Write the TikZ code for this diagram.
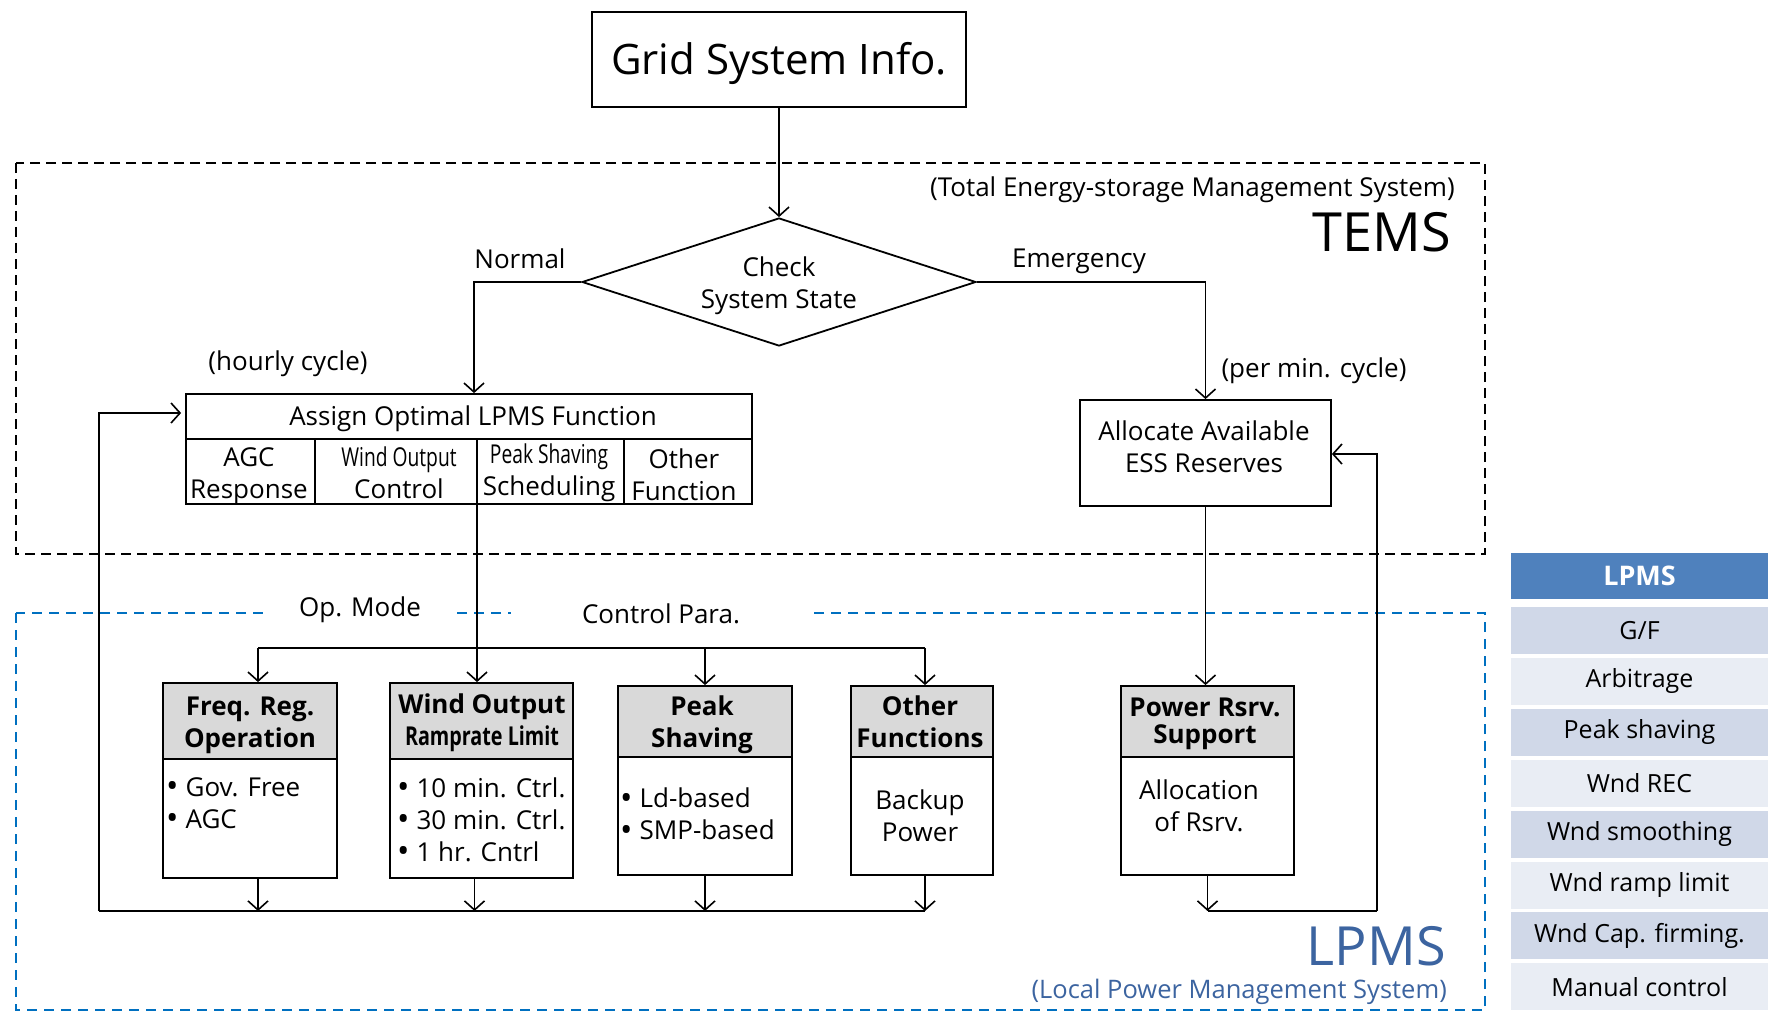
\documentclass[tikz,border=0pt]{standalone}
\usepackage{fontspec}
\setmainfont{Open Sans}
\usetikzlibrary{arrows.meta,shapes.geometric,calc}
\definecolor{hdrgray}{HTML}{D9D9D9}
\definecolor{lpmsblue}{HTML}{0070C0}
\definecolor{lpmstext}{HTML}{3C64A0}
\definecolor{tabhead}{HTML}{4F81BD}
\definecolor{tabdark}{HTML}{D0D8E8}
\definecolor{tablight}{HTML}{E9EDF4}
% list bullet, a little larger than the font's own
\newcommand\itembul{{\fontsize{33}{32}\selectfont\raisebox{-1.5pt}{\textbullet}}\hspace{7pt}}
\begin{document}
\begin{tikzpicture}[x=1pt,y=-1pt,
  >={Straight Barb[length=9pt,width=20pt,line width=1.6pt]},
  box/.style={draw,line width=1.8pt,inner sep=0pt},
  fbox/.style={box,path picture={
      \fill[hdrgray] (path picture bounding box.north west) rectangle ([yshift=-#1]path picture bounding box.north east);
      \draw[line width=1.8pt] ([yshift=-#1]path picture bounding box.north west) -- ([yshift=-#1]path picture bounding box.north east);}},
  txt/.style={font=\fontsize{26}{32}\selectfont,inner sep=0pt,align=center},
  btxt/.style={font=\bfseries\fontsize{26}{32}\selectfont,inner sep=0pt,align=center},
  ltxt/.style={font=\fontsize{26}{32}\selectfont,inner sep=0pt,align=left,anchor=west},
  conn/.style={line width=1.8pt,->},
  wire/.style={line width=1.8pt},
  cell/.style={minimum width=257pt,minimum height=47pt,inner sep=0pt,font=\fontsize{25}{30}\selectfont}
]
\useasboundingbox (0,0) rectangle (1768,1016);

% system frames
\draw[line width=2.4pt,dash pattern=on 10pt off 6pt] (16,163) rectangle (1485,554);
\draw[lpmsblue,line width=2pt,dash pattern=on 10pt off 7pt] (16,613) rectangle (1485,1010);

\node[anchor=east,txt] (temsfull) at (1455,190) {(Total Energy-storage Management System)};
\node[anchor=east,inner sep=0pt,font=\fontsize{54}{60}\selectfont] (tems) at (1451,232) {TEMS};
\node[anchor=east,inner sep=0pt,text=lpmstext,font=\fontsize{54}{60}\selectfont] (lpms) at (1446,946) {LPMS};
\node[anchor=east,inner sep=0pt,text=lpmstext,font=\fontsize{25.5}{30}\selectfont] (lpmsfull) at (1447,992) {(Local Power Management System)};

% top: grid info and state check
\node[box,minimum width=374pt,minimum height=95pt,text height=32pt,text depth=2pt,font=\fontsize{42}{50}\selectfont] (grid) at (779,59.5) {Grid System Info.};
\node[draw,diamond,line width=1.8pt,minimum width=394pt,minimum height=128pt,inner sep=0pt] (chk) at (779,282) {};
\node[txt] (chktxt) at (779,286) {Check\\System State};

\node[txt] (lnormal) at (520,259) {Normal};
\node[txt] (lemerg) at (1079,261) {Emergency};
\node[txt] (lhourly) at (288,364) {(hourly cycle)};
\node[txt] (lpermin) at (1314,371) {(per min. cycle)};

% LPMS function assignment
\node[box,minimum width=566pt,minimum height=110pt] (assign) at (469,449) {};
\draw[wire] (assign.west |- 0,439) -- (assign.east |- 0,439);
\foreach \cx in {315,477,624} \draw[wire] (\cx,439) -- (\cx,504);
\node[txt] (asgtitle) at (473,419) {Assign Optimal LPMS Function};
\node[txt] (cagc) at (249,476.5) {AGC\\Response};
\node[txt] (cwind) at (399,472.5) {\scalebox{0.74}[1]{Wind Output}\\Control};
\node[txt] (cpeak) at (549,472.5) {\scalebox{0.74}[1]{Peak Shaving}\\Scheduling};
\node[txt] (cother) at (684,474.5) {Other\\Function};

% ESS reserve allocation
\node[box,minimum width=251pt,minimum height=106pt] (alloc) at (1205.5,453) {};
\node[txt] (alloctxt) at (1204,446.5) {Allocate Available\\ESS Reserves};

% operating mode labels
\node[txt,fill=white,inner xsep=36pt,inner ysep=10pt] (lopmode) at (360,610) {Op. Mode};
\node[txt,fill=white,inner xsep=71pt,inner ysep=10pt] (lctrl) at (661,614) {Control Para.};

% LPMS function blocks
\node[fbox=76pt,minimum width=174pt,minimum height=195pt] (freq) at (250,780.5) {};
\node[btxt] (freqh) at (250,725.5) {Freq. Reg.\\Operation};
\node[ltxt] (freqb) at (166,803.5) {\itembul Gov. Free\\\itembul AGC};

\node[fbox=76pt,minimum width=183pt,minimum height=195pt] (wind) at (481.5,780.5) {};
\node[btxt] (windh) at (482,723) {Wind Output\\\scalebox{0.76}[1]{Ramprate Limit}};
\node[ltxt] (windb) at (397,820) {\itembul 10 min. Ctrl.\\\itembul 30 min. Ctrl.\\\itembul 1 hr. Cntrl};

\node[fbox=71pt,minimum width=174pt,minimum height=189pt] (peak) at (705,780.5) {};
\node[btxt] (peakh) at (702,725) {Peak\\Shaving};
\node[ltxt] (peakb) at (620,814.5) {\itembul Ld-based\\\itembul SMP-based};

\node[fbox=71pt,minimum width=142pt,minimum height=189pt] (other) at (922,780.5) {};
\node[btxt] (otherh) at (920,722) {Other\\Functions};
\node[txt] (otherb) at (920,816) {Backup\\Power};

\node[fbox=71pt,minimum width=173pt,minimum height=189pt] (power) at (1207.5,780.5) {};
\node[btxt,font=\bfseries\fontsize{26}{27}\selectfont] (powerh) at (1205,724) {Power Rsrv.\\Support};
\node[txt] (powerb) at (1199,806) {Allocation\\of Rsrv.};

% LPMS function list
\node[cell,fill=tabhead,text=white,font=\bfseries\fontsize{27}{30}\selectfont,minimum height=46pt] (thead) at (1639.5,576) {LPMS};
\foreach \t/\c [count=\i from 0] in {{G/F}/tabdark,Arbitrage/tablight,Peak shaving/tabdark,Wnd REC/tablight,Wnd smoothing/tabdark,Wnd ramp limit/tablight,Wnd Cap. firming./tabdark,Manual control/tablight}
  \node[cell,fill=\c] (row\i) at (1639.5,630.5+50.9*\i) {\t};

% connectors
\draw[conn] (grid.south) -- (chk.north);
\draw[conn] (chk.west) -| ([xshift=5pt]assign.north);
\draw[conn] (chk.east) -| (alloc.north);

\coordinate (asgout) at (477,504);
\draw[conn] (asgout) -- (asgout |- wind.north);
\coordinate (busL) at (258,648);
\coordinate (busR) at (925,648);
\draw[wire] (busL) -- (busR);
\draw[conn] (busL) -- (busL |- freq.north);
\draw[conn] (peak.north |- busL) -- (peak.north);
\draw[conn] (busR) -- (busR |- other.north);

\coordinate (retL) at (99,911);
\coordinate (retR) at (925,911);
\draw[wire] (retL) -- (retR);
\draw[conn] (busL |- freq.south) -- (busL |- retL);
\draw[conn] ([xshift=-7pt]wind.south) -- ([xshift=-7pt]wind.south |- retL);
\draw[conn] (peak.south) -- (peak.south |- retL);
\draw[conn] (retR |- other.south) -- (retR);
\coordinate (fbTop) at (99,413);
\draw[conn,shorten >=4pt] (retL) -- (fbTop) -- (fbTop -| assign.west);

\draw[conn] (alloc.south) -- (alloc.south |- power.north);
\draw[conn] (power.south) -- (power.south |- retL);
\coordinate (fbR) at (1377,911);
\coordinate (fbRTop) at (1377,454);
\draw[wire] (power.south |- retL) -- (fbR);
\draw[conn] (fbR) -- (fbRTop) -- (fbRTop -| alloc.east);
\end{tikzpicture}
\end{document}
